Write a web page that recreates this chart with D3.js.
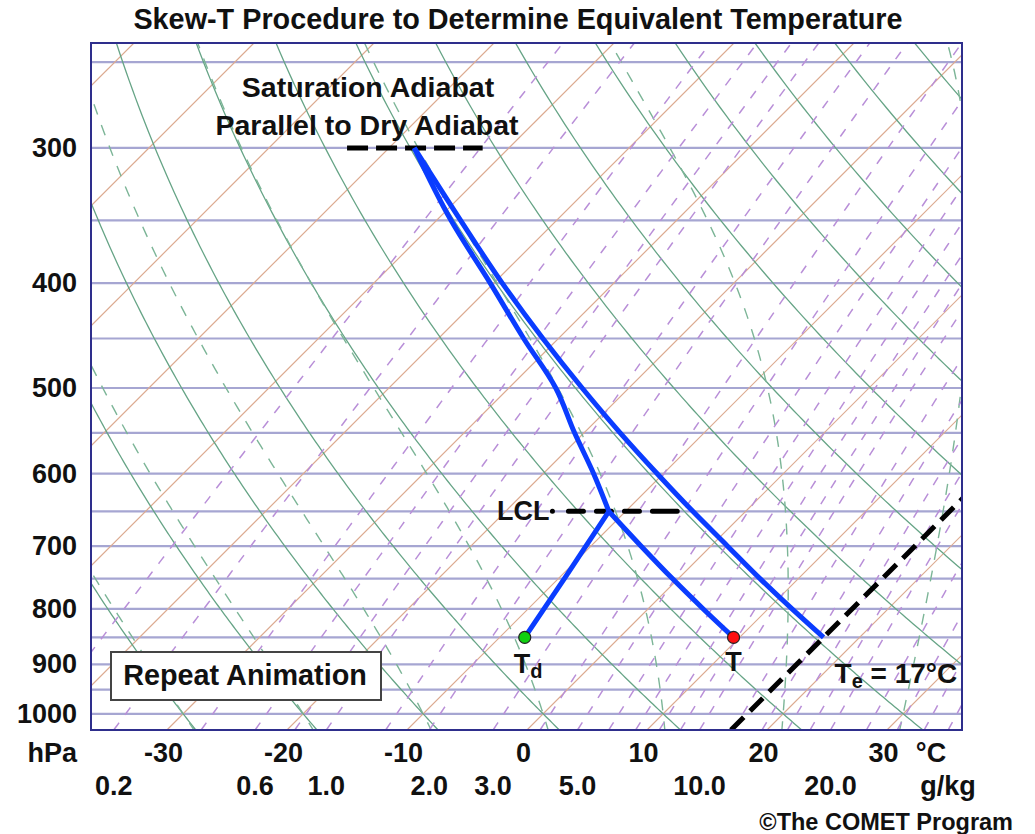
<!DOCTYPE html>
<html>
<head>
<meta charset="utf-8">
<script src="https://cdn.jsdelivr.net/npm/d3@7"></script>
<style>
  body { margin: 0; background: #fff; }
  svg text { font-family: "Liberation Sans", Arial, Helvetica, sans-serif; font-weight: bold; fill: #111; }
</style>
</head>
<body>
<div id="chart"></div>
<script>
// chart values
var isobarLevels = [250, 300, 350, 400, 450, 500, 550, 600, 650, 700, 750, 800, 850, 900, 950, 1000];
var pressureLabels = [300, 400, 500, 600, 700, 800, 900, 1000];
var tempLabels = [-30, -20, -10, 0, 10, 20, 30];
var mixLabels = [0.2, 0.6, 1.0, 2.0, 3.0, 5.0, 10.0, 20.0];

var isothermValues = [-90, -80, -70, -60, -50, -40, -30, -20, -10, 0, 10, 20, 30];
var dryAdiabatValues = [-40, -30, -20, -10, 0, 10, 20, 30, 40, 50, 60, 70, 80, 90, 100, 110];
var moistAdiabatValues = [-40, -30, -20, -10, 0, 10, 20, 30];
var mixingRatioValues = [0.1, 0.2, 0.4, 0.6, 0.8, 1, 1.5, 2, 3, 4, 5, 6, 7, 8, 9, 10, 12, 14, 16, 18, 20, 24, 28, 32, 36];

// parcel path (hPa, degC)
var tempPathP = [850, 800, 750, 700, 650];
var tempPathT = [9.5, 4.6, -0.5, -5.8, -11.4];
var dewPathP = [850, 750, 650];
var dewPathT = [-7.9, -9.5, -11.4];
var moistPathP = [650, 600, 550, 500, 450, 400, 350, 300];
var moistPathT = [-11.4, -15.8, -20.8, -26.1, -32.9, -40.3, -48.8, -57.9];
var dryDownP = [300, 350, 400, 450, 500, 550, 600, 650, 700, 750, 800, 850];
var dryDownT = [-57.9, -48.0, -39.3, -31.3, -23.9, -17.0, -10.5, -4.4, 1.4, 6.8, 12.0, 17.0];

var surfaceP = 850, surfaceT = 9.5, surfaceTd = -7.9;
var lclP = 650, topP = 300, equivTemp = 17;
var topGuideT = [-63.5, -52.2];
var lclGuideT = [-16.1, -5.7];

var margin = {top: 43, right: 73, bottom: 104, left: 91};
var width = 1035 - margin.left - margin.right,
    height = 834 - margin.top - margin.bottom;

var pBottom = 1035, pTop = 240;
var yScale = d3.scaleLog().domain([pBottom, pTop]).range([height, 0]);
var xScale = d3.scaleLinear().domain([-36.33, 36.25]).range([0, width]);

function skewX(t, p) { return xScale(t) + (height - yScale(p)); }

var pressureGrid = d3.range(pBottom, pTop - 5, -5);

function esat(tC) { return 6.112 * Math.exp(17.67 * tC / (tC + 243.5)); }
function dewFromMix(w, p) {
  var e = w * p / (622 + w);
  var l = Math.log(e / 6.112);
  return 243.5 * l / (17.67 - l);
}
function moistRate(tK, p) {
  var es = esat(tK - 273.15);
  var rs = 0.622 * es / (p - es);
  return (287.04 * tK + 2.501e6 * rs) /
    (p * (1005.7 + 2.501e6 * 2.501e6 * rs * 0.622 / (287.04 * tK * tK)));
}
function moistCurve(thetaW) {
  function walk(dp, pEnd) {
    var t = thetaW + 273.15, p = 1000, out = [];
    while ((dp < 0 && p > pEnd) || (dp > 0 && p < pEnd)) {
      var k1 = moistRate(t, p),
          k2 = moistRate(t + dp / 2 * k1, p + dp / 2),
          k3 = moistRate(t + dp / 2 * k2, p + dp / 2),
          k4 = moistRate(t + dp * k3, p + dp);
      t = t + dp / 6 * (k1 + 2 * k2 + 2 * k3 + k4);
      p = p + dp;
      out.push({p: p, t: t - 273.15});
    }
    return out;
  }
  var up = walk(-5, pTop - 5), down = walk(5, pBottom + 5);
  return down.reverse().concat([{p: 1000, t: thetaW}]).concat(up);
}

var line = d3.line()
  .x(function(d) { return skewX(d.t, d.p); })
  .y(function(d) { return yScale(d.p); });
var smoothLine = d3.line().curve(d3.curveMonotoneY)
  .x(function(d) { return skewX(d.t, d.p); })
  .y(function(d) { return yScale(d.p); });

function zipPath(ps, ts) { return ps.map(function(p, i) { return {p: p, t: ts[i]}; }); }

var svg = d3.select("#chart").append("svg")
    .attr("width", 1035)
    .attr("height", 834);

svg.append("defs").append("clipPath").attr("id", "plotClip")
  .append("rect").attr("width", width).attr("height", height);

var g = svg.append("g")
    .attr("transform", "translate(" + margin.left + "," + margin.top + ")");

var grid = g.append("g").attr("clip-path", "url(#plotClip)");

grid.selectAll(".isobar")
  .data(isobarLevels)
  .enter().append("line")
  .attr("class", "isobar")
  .attr("x1", 0).attr("x2", width)
  .attr("y1", function(d) { return yScale(d); })
  .attr("y2", function(d) { return yScale(d); })
  .style("stroke", "#a6a6d2")
  .style("stroke-width", 2.2);

grid.selectAll(".isotherm")
  .data(isothermValues)
  .enter().append("path")
  .attr("class", "isotherm")
  .attr("d", function(d) { return line([{p: pBottom, t: d}, {p: pTop, t: d}]); })
  .style("fill", "none")
  .style("stroke", "#dcaa90")
  .style("stroke-width", 1.2);

grid.selectAll(".dry")
  .data(dryAdiabatValues)
  .enter().append("path")
  .attr("class", "dry")
  .attr("d", function(d) {
    return line(pressureGrid.map(function(p) {
      return {p: p, t: (d + 273.15) * Math.pow(p / 1000, 0.2857) - 273.15};
    }));
  })
  .style("fill", "none")
  .style("stroke", "#66a486")
  .style("stroke-width", 1.3);

grid.selectAll(".moist")
  .data(moistAdiabatValues)
  .enter().append("path")
  .attr("class", "moist")
  .attr("d", function(d) { return line(moistCurve(d)); })
  .style("fill", "none")
  .style("stroke", "#7cb597")
  .style("stroke-width", 1.4)
  .style("stroke-dasharray", "11,11");

grid.selectAll(".mix")
  .data(mixingRatioValues)
  .enter().append("path")
  .attr("class", "mix")
  .attr("d", function(d) {
    return line(pressureGrid.map(function(p) { return {p: p, t: dewFromMix(d, p)}; }));
  })
  .style("fill", "none")
  .style("stroke", "#b98fd8")
  .style("stroke-width", 1.5)
  .style("stroke-dasharray", "9,10");

// guide dashes
var guides = g.append("g").attr("clip-path", "url(#plotClip)")
  .style("fill", "none").style("stroke", "#000")
  .style("stroke-width", 5);

guides.append("path")
  .attr("d", line([{p: pBottom, t: equivTemp}, {p: pTop, t: equivTemp}]))
  .style("stroke-dasharray", "18,9");
guides.append("path")
  .attr("d", line([{p: topP, t: topGuideT[0]}, {p: topP, t: topGuideT[1]}]))
  .style("stroke-dasharray", "21,8");
guides.append("path")
  .attr("d", line([{p: lclP, t: lclGuideT[0]}, {p: lclP, t: lclGuideT[1]}]))
  .style("stroke-linecap", "round")
  .style("stroke-dasharray", "0,16,15,13,15,13,15,13,17");

// parcel
var parcel = g.append("g")
  .style("fill", "none").style("stroke", "#0a3cff")
  .style("stroke-width", 5).style("stroke-linejoin", "round");
parcel.append("path").attr("d", line(zipPath(dewPathP, dewPathT)));
parcel.append("path").attr("d", smoothLine(zipPath(tempPathP, tempPathT)));
parcel.append("path").attr("d", smoothLine(zipPath(moistPathP, moistPathT)));
parcel.append("path").attr("d", smoothLine(zipPath(dryDownP, dryDownT)));

g.append("rect")
  .attr("width", width).attr("height", height)
  .style("fill", "none").style("stroke", "#2e2e8c").style("stroke-width", 2);

// points
var pts = [{t: surfaceTd, c: "#10d010"}, {t: surfaceT, c: "#ff1010"}];
g.selectAll(".pt")
  .data(pts)
  .enter().append("circle")
  .attr("class", "pt")
  .attr("cx", function(d) { return skewX(d.t, surfaceP); })
  .attr("cy", yScale(surfaceP))
  .attr("r", 6)
  .style("fill", function(d) { return d.c; })
  .style("stroke", "#222").style("stroke-width", 1.2);

// axes
var yAxis = d3.axisLeft(yScale).tickValues(pressureLabels).tickSize(0).tickPadding(14)
  .tickFormat(function(d) { return String(d); });
var yAx = g.append("g").attr("class", "y axis").call(yAxis);
var xAxis = d3.axisBottom(xScale).tickValues(tempLabels).tickSize(0).tickPadding(13)
  .tickFormat(function(d) { return String(d); });
var xAx = g.append("g").attr("class", "x axis")
  .attr("transform", "translate(-4," + height + ")").call(xAxis);
[yAx, xAx].forEach(function(a) {
  a.select(".domain").remove();
  a.selectAll("text").style("font-size", "27px").style("font-family", null).style("fill", "#111");
});

g.selectAll(".mixLabel")
  .data(mixLabels)
  .enter().append("text")
  .attr("class", "mixLabel")
  .attr("x", function(d) { return skewX(dewFromMix(d, pBottom), pBottom); })
  .attr("y", height + 65)
  .attr("text-anchor", "middle")
  .style("font-size", "27px")
  .text(d3.format(".1f"));

g.append("text").attr("x", -14).attr("y", height + 32).attr("text-anchor", "end")
  .style("font-size", "27px").text("hPa");
g.append("text").attr("x", 840).attr("y", height + 32).attr("text-anchor", "middle")
  .style("font-size", "27px").text("°C");
g.append("text").attr("x", 857).attr("y", height + 65).attr("text-anchor", "middle")
  .style("font-size", "27px").text("g/kg");

svg.append("text").attr("x", 518).attr("y", 29).attr("text-anchor", "middle")
  .style("font-size", "28.8px").text("Skew-T Procedure to Determine Equivalent Temperature");
svg.append("text").attr("x", 1013).attr("y", 830).attr("text-anchor", "end")
  .style("font-size", "23.5px").text("©The COMET Program");

// annotations
g.append("text").attr("x", 277).attr("y", 54).attr("text-anchor", "middle")
  .style("font-size", "28.5px").text("Saturation Adiabat");
g.append("text").attr("x", 276).attr("y", 92).attr("text-anchor", "middle")
  .style("font-size", "28.5px").text("Parallel to Dry Adiabat");

g.append("text")
  .attr("x", skewX(lclGuideT[0], lclP) - 3)
  .attr("y", yScale(lclP) + 9)
  .attr("text-anchor", "end")
  .style("font-size", "27px").text("LCL");

g.append("text")
  .attr("x", skewX(surfaceT, surfaceP))
  .attr("y", yScale(surfaceP) + 34)
  .attr("text-anchor", "middle")
  .style("font-size", "27px").text("T");

var td = g.append("text")
  .attr("x", skewX(surfaceTd, surfaceP) - 11)
  .attr("y", yScale(surfaceP) + 36)
  .style("font-size", "27px");
td.append("tspan").text("T");
td.append("tspan").attr("dy", 5).style("font-size", "20px").text("d");

var te = g.append("text")
  .attr("x", skewX(equivTemp, surfaceP) + 11)
  .attr("y", yScale(surfaceP) + 46)
  .style("font-size", "28px");
te.append("tspan").text("T");
te.append("tspan").attr("dy", 5).style("font-size", "20px").text("e");
te.append("tspan").attr("dy", -5).text(" = " + equivTemp + "°C");

// button
var btn = svg.append("g").attr("transform", "translate(111,652)");
btn.append("rect").attr("width", 270).attr("height", 48)
  .style("fill", "#fff").style("stroke", "#444").style("stroke-width", 2);
btn.append("text").attr("x", 134).attr("y", 33).attr("text-anchor", "middle")
  .style("font-size", "28.8px").text("Repeat Animation");
</script>
</body>
</html>
